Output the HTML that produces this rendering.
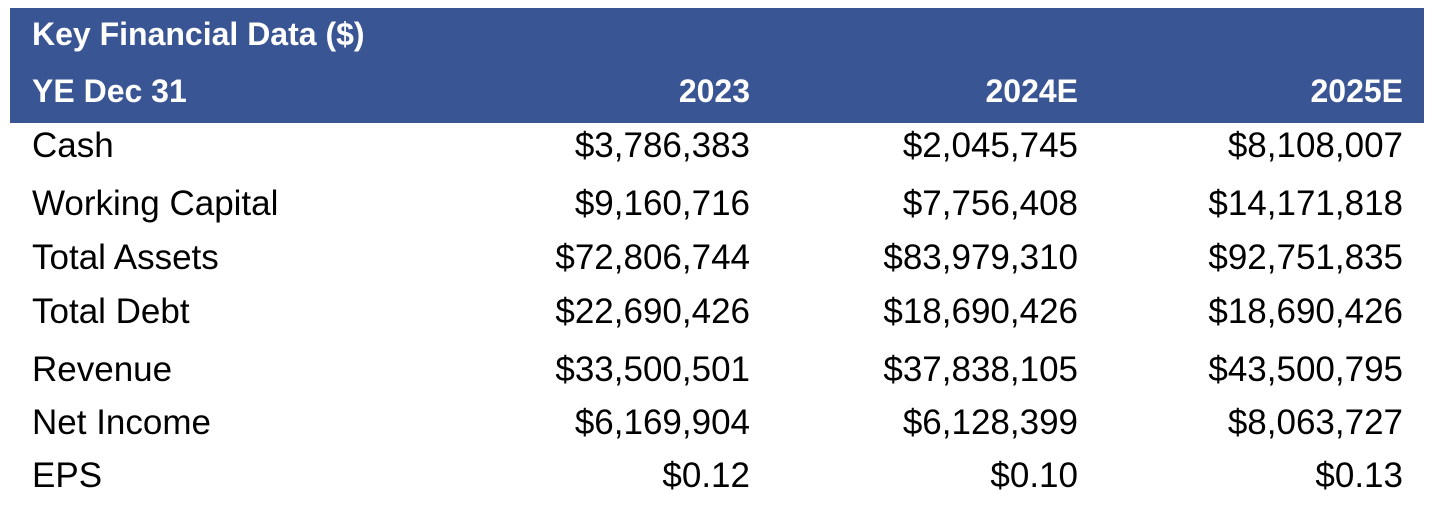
<!DOCTYPE html>
<html><head><meta charset="utf-8"><style>
body{margin:0;width:1440px;height:506px;background:#fff;position:relative;font-family:"Liberation Sans",sans-serif;overflow:hidden}
.band{position:absolute;left:10px;top:8px;width:1414px;height:115px;background:#3a5594}
.t{position:absolute;line-height:1;white-space:nowrap}
.h{color:#fff;font-weight:bold;font-size:32px}
.b{color:#000;font-size:35px}
.r{text-align:right;width:300px}
</style></head><body>
<div class="band"></div>
<div class="t h" style="left:32px;top:18px">Key Financial Data ($)</div>
<div class="t h" style="left:32px;top:75px">YE Dec 31</div>
<div class="t h r" style="left:450px;top:75px">2023</div>
<div class="t h r" style="left:778px;top:75px">2024E</div>
<div class="t h r" style="left:1103px;top:75px">2025E</div>
<div id="rows"></div>
<script>
const labels=["Cash","Working Capital","Total Assets","Total Debt","Revenue","Net Income","EPS"];
const y2023=["$3,786,383","$9,160,716","$72,806,744","$22,690,426","$33,500,501","$6,169,904","$0.12"];
const y2024=["$2,045,745","$7,756,408","$83,979,310","$18,690,426","$37,838,105","$6,128,399","$0.10"];
const y2025=["$8,108,007","$14,171,818","$92,751,835","$18,690,426","$43,500,795","$8,063,727","$0.13"];
const baselines=[158,216,270,324,382,435,488];
const cont=document.getElementById('rows');
function add(txt,left,top,cls,name){
  const d=document.createElement('div');
  d.className=cls;d.textContent=txt;d.style.left=left+'px';d.style.top=top+'px';
  
  
  cont.appendChild(d);
}
labels.forEach((l,i)=>{
  const top=baselines[i]-30;
  const k=l.toLowerCase().replace(/ /g,'-');
  add(l,32,top,'t b',k+'-label');
  add(y2023[i],450,top,'t b r',k+'-2023');
  add(y2024[i],778,top,'t b r',k+'-2024e');
  add(y2025[i],1103,top,'t b r',k+'-2025e');
});
</script>
</body></html>
